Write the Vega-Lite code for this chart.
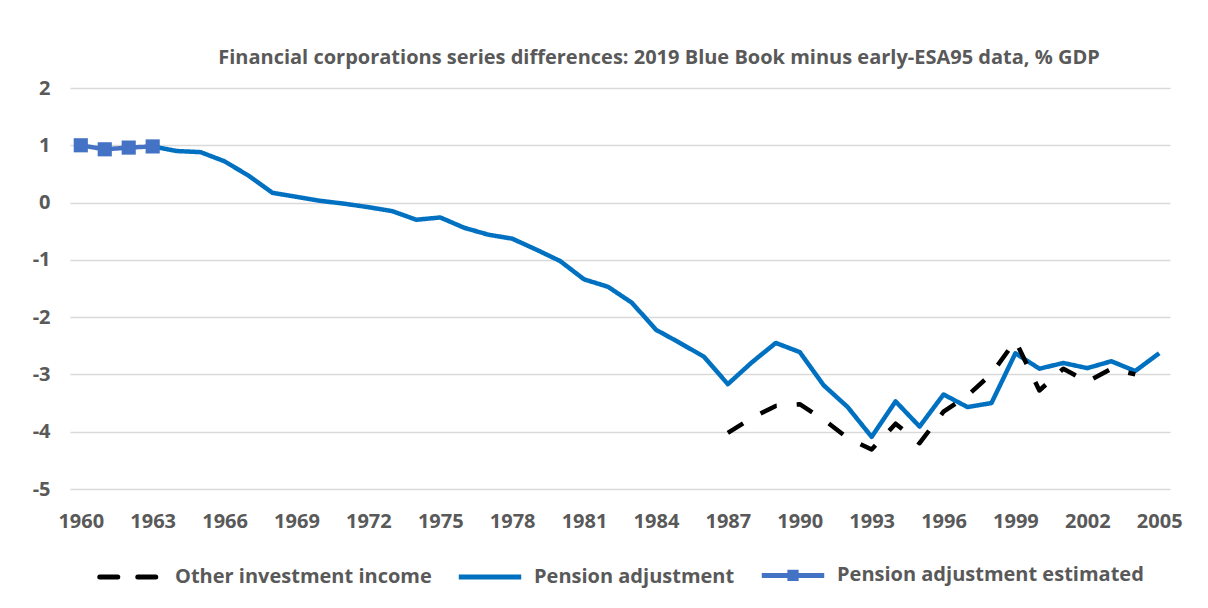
{
  "$schema": "https://vega.github.io/schema/vega-lite/v6.json",
  "width": 1100,
  "height": 401,
  "autosize": "none",
  "padding": {"left": 70, "top": 88, "right": 38, "bottom": 119},
  "background": "white",
  "title": {
    "text": "Financial corporations series differences: 2019 Blue Book minus early-ESA95 data, % GDP",
    "font": "Open Sans",
    "fontSize": 20,
    "fontWeight": "bold",
    "color": "#595959",
    "anchor": "middle",
    "dx": 39,
    "offset": 10
  },
  "config": {
    "view": {"stroke": null},
    "font": "Open Sans"
  },
  "data": {
    "values": [
      {"year": 1960, "value": 1.00, "series": "Pension adjustment estimated"},
      {"year": 1961, "value": 0.93, "series": "Pension adjustment estimated"},
      {"year": 1962, "value": 0.96, "series": "Pension adjustment estimated"},
      {"year": 1963, "value": 0.98, "series": "Pension adjustment estimated"},
      {"year": 1963, "value": 0.98, "series": "Pension adjustment"},
      {"year": 1964, "value": 0.90, "series": "Pension adjustment"},
      {"year": 1965, "value": 0.88, "series": "Pension adjustment"},
      {"year": 1966, "value": 0.72, "series": "Pension adjustment"},
      {"year": 1967, "value": 0.47, "series": "Pension adjustment"},
      {"year": 1968, "value": 0.17, "series": "Pension adjustment"},
      {"year": 1969, "value": 0.10, "series": "Pension adjustment"},
      {"year": 1970, "value": 0.03, "series": "Pension adjustment"},
      {"year": 1971, "value": -0.02, "series": "Pension adjustment"},
      {"year": 1972, "value": -0.08, "series": "Pension adjustment"},
      {"year": 1973, "value": -0.15, "series": "Pension adjustment"},
      {"year": 1974, "value": -0.30, "series": "Pension adjustment"},
      {"year": 1975, "value": -0.26, "series": "Pension adjustment"},
      {"year": 1976, "value": -0.44, "series": "Pension adjustment"},
      {"year": 1977, "value": -0.56, "series": "Pension adjustment"},
      {"year": 1978, "value": -0.63, "series": "Pension adjustment"},
      {"year": 1979, "value": -0.82, "series": "Pension adjustment"},
      {"year": 1980, "value": -1.02, "series": "Pension adjustment"},
      {"year": 1981, "value": -1.34, "series": "Pension adjustment"},
      {"year": 1982, "value": -1.47, "series": "Pension adjustment"},
      {"year": 1983, "value": -1.75, "series": "Pension adjustment"},
      {"year": 1984, "value": -2.22, "series": "Pension adjustment"},
      {"year": 1985, "value": -2.45, "series": "Pension adjustment"},
      {"year": 1986, "value": -2.69, "series": "Pension adjustment"},
      {"year": 1987, "value": -3.17, "series": "Pension adjustment"},
      {"year": 1988, "value": -2.79, "series": "Pension adjustment"},
      {"year": 1989, "value": -2.45, "series": "Pension adjustment"},
      {"year": 1990, "value": -2.61, "series": "Pension adjustment"},
      {"year": 1991, "value": -3.19, "series": "Pension adjustment"},
      {"year": 1992, "value": -3.57, "series": "Pension adjustment"},
      {"year": 1993, "value": -4.09, "series": "Pension adjustment"},
      {"year": 1994, "value": -3.47, "series": "Pension adjustment"},
      {"year": 1995, "value": -3.91, "series": "Pension adjustment"},
      {"year": 1996, "value": -3.35, "series": "Pension adjustment"},
      {"year": 1997, "value": -3.57, "series": "Pension adjustment"},
      {"year": 1998, "value": -3.50, "series": "Pension adjustment"},
      {"year": 1999, "value": -2.63, "series": "Pension adjustment"},
      {"year": 2000, "value": -2.90, "series": "Pension adjustment"},
      {"year": 2001, "value": -2.80, "series": "Pension adjustment"},
      {"year": 2002, "value": -2.89, "series": "Pension adjustment"},
      {"year": 2003, "value": -2.77, "series": "Pension adjustment"},
      {"year": 2004, "value": -2.94, "series": "Pension adjustment"},
      {"year": 2005, "value": -2.63, "series": "Pension adjustment"},
      {"year": 1987, "value": -4.02, "series": "Other investment income"},
      {"year": 1988, "value": -3.76, "series": "Other investment income"},
      {"year": 1989, "value": -3.55, "series": "Other investment income"},
      {"year": 1990, "value": -3.52, "series": "Other investment income"},
      {"year": 1991, "value": -3.79, "series": "Other investment income"},
      {"year": 1992, "value": -4.11, "series": "Other investment income"},
      {"year": 1993, "value": -4.31, "series": "Other investment income"},
      {"year": 1994, "value": -3.86, "series": "Other investment income"},
      {"year": 1995, "value": -4.20, "series": "Other investment income"},
      {"year": 1996, "value": -3.65, "series": "Other investment income"},
      {"year": 1997, "value": -3.37, "series": "Other investment income"},
      {"year": 1998, "value": -2.99, "series": "Other investment income"},
      {"year": 1999, "value": -2.41, "series": "Other investment income"},
      {"year": 2000, "value": -3.28, "series": "Other investment income"},
      {"year": 2001, "value": -2.90, "series": "Other investment income"},
      {"year": 2002, "value": -3.13, "series": "Other investment income"},
      {"year": 2003, "value": -2.90, "series": "Other investment income"},
      {"year": 2004, "value": -3.00, "series": "Other investment income"}
    ]
  },
  "encoding": {
    "x": {
      "field": "year",
      "type": "quantitative",
      "scale": {"domain": [1959.55, 2005.45], "nice": false, "zero": false},
      "axis": {
        "title": null,
        "values": [1960, 1963, 1966, 1969, 1972, 1975, 1978, 1981, 1984, 1987, 1990, 1993, 1996, 1999, 2002, 2005],
        "format": "d",
        "grid": false,
        "domain": false,
        "ticks": false,
        "labelFontSize": 20,
        "labelFontWeight": "bold",
        "labelColor": "#595959",
        "labelPadding": 22,
        "labelFlush": false
      }
    },
    "y": {
      "field": "value",
      "type": "quantitative",
      "scale": {"domain": [-5, 2], "nice": false},
      "axis": {
        "title": null,
        "values": [-5, -4, -3, -2, -1, 0, 1, 2],
        "labelExpr": "'' + datum.value",
        "grid": true,
        "gridColor": "#d9d9d9",
        "gridWidth": 1.5,
        "domain": false,
        "ticks": false,
        "labelFontSize": 20,
        "labelFontWeight": "bold",
        "labelColor": "#595959",
        "labelPadding": 20
      }
    }
  },
  "layer": [
    {
      "mark": {"type": "line", "strokeWidth": 4.5, "strokeCap": "butt", "strokeJoin": "round"},
      "encoding": {
        "color": {
          "field": "series",
          "type": "nominal",
          "scale": {
            "domain": ["Other investment income", "Pension adjustment", "Pension adjustment estimated"],
            "range": ["#000000", "#0070C0", "#4472C4"]
          },
          "legend": {
            "title": null,
            "orient": "none",
            "legendX": 27,
            "legendY": 453,
            "direction": "horizontal",
            "labelFontSize": 20,
            "labelFontWeight": "bold",
            "labelColor": "#595959",
            "labelLimit": 500,
            "symbolSize": 3900,
            "symbolStrokeWidth": 5,
            "labelOffset": 10,
            "columnPadding": 16,
            "encode": {
              "symbols": {
                "update": {
                  "shape": {"signal": "datum.value === 'Pension adjustment estimated' ? 'M-1,0H1M-0.1,-0.1H0.1V0.1H-0.1Z' : 'stroke'"},
                  "fill": {"signal": "datum.value === 'Pension adjustment estimated' ? '#4472C4' : 'transparent'"},
                  "strokeCap": {"signal": "datum.value === 'Other investment income' ? 'round' : 'butt'"},
                  "strokeDash": {"signal": "datum.value === 'Other investment income' ? [19, 23] : [1, 0]"}
                }
              }
            }
          }
        },
        "strokeDash": {
          "field": "series",
          "type": "nominal",
          "scale": {
            "domain": ["Other investment income", "Pension adjustment", "Pension adjustment estimated"],
            "range": [[18, 20], [1, 0], [1, 0]]
          },
          "legend": null
        }
      }
    },
    {
      "transform": [{"filter": "datum.series === 'Pension adjustment estimated'"}],
      "mark": {"type": "point", "shape": "square", "filled": true, "size": 200, "opacity": 1, "color": "#4472C4"}
    }
  ]
}
